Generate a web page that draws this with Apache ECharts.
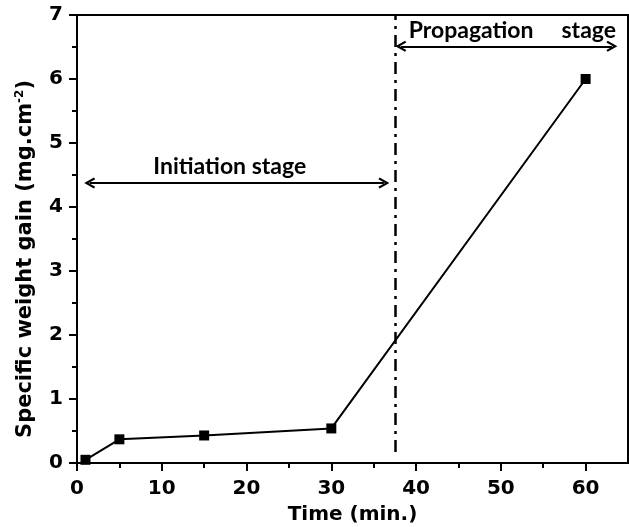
<!DOCTYPE html>
<html><head><meta charset="utf-8">
<script src="https://cdn.jsdelivr.net/npm/echarts@6/dist/echarts.min.js"></script>
<style>html,body{margin:0;padding:0;background:#fff}#c{width:629px;height:527px}</style>
</head><body><div id="c"></div>
<script>
var timeMin = [1, 5, 15, 30, 60];
var weightGain = [0.05, 0.37, 0.43, 0.54, 6.0];
var xMajorTicks = [0, 10, 20, 30, 40, 50, 60];
var xMinorTicks = [5, 15, 25, 35, 45, 55];
var stageBoundary = 37.5;
var initiationArrow = {x: [1.5, 36.2], y: 4.375, text: 'Initiation stage'};
var propagationArrow = {x: [38.2, 63.1], y: 6.51, text: 'Propagation     stage'};

var chev = 'path://M5,0 L10,8.5 L8.4,9.6 L5,3.8 L1.6,9.6 L0,8.5 Z';
var annoFont = {color: '#000', fontFamily: 'Lato', fontWeight: 'bold', fontSize: 23};
var tickFont = {color: '#000', fontFamily: 'DejaVu Sans', fontWeight: 'bold', fontSize: 20};

var chart = echarts.init(document.getElementById('c'), null, {renderer: 'canvas'});
chart.setOption({
  animation: false,
  backgroundColor: '#fff',
  grid: {left: 77, right: 1, top: 15, bottom: 64, outerBoundsMode: 'none', containLabel: false,
         show: true, borderColor: '#000', borderWidth: 2, backgroundColor: 'transparent'},
  xAxis: [{
    type: 'value', min: 0, max: 65, interval: 10,
    name: 'Time (min.)', nameLocation: 'middle', nameGap: 42,
    nameTextStyle: {color: '#000', fontFamily: 'DejaVu Sans', fontWeight: 'bold', fontSize: 20},
    axisLine: {show: true, lineStyle: {color: '#000', width: 2}},
    axisTick: {show: true, length: 8, lineStyle: {color: '#000', width: 2}, customValues: xMajorTicks},
    axisLabel: Object.assign({margin: 16, customValues: xMajorTicks}, tickFont),
    splitLine: {show: false}
  }, {
    type: 'value', min: 0, max: 65, position: 'bottom',
    axisLine: {show: false},
    axisTick: {show: true, length: 5, lineStyle: {color: '#000', width: 2}, customValues: xMinorTicks},
    axisLabel: {show: false},
    splitLine: {show: false}
  }],
  yAxis: {
    type: 'value', min: 0, max: 7, interval: 1,
    name: '{a|Specific weight gain (mg.cm}{s|-2}{a|)}', nameLocation: 'middle', nameGap: 40,
    nameTextStyle: {padding: [0, 40, 0, 0], rich: {
      a: {color: '#000', fontFamily: 'DejaVu Sans', fontWeight: 'bold', fontSize: 21},
      s: {color: '#000', fontFamily: 'DejaVu Sans', fontWeight: 'bold', fontSize: 12, padding: [0, 0, 11, 0]}
    }},
    axisLine: {show: true, lineStyle: {color: '#000', width: 2}},
    axisTick: {show: true, length: 8, lineStyle: {color: '#000', width: 2}},
    minorTick: {show: true, splitNumber: 2, length: 5, lineStyle: {color: '#000', width: 2}},
    axisLabel: Object.assign({margin: 14}, tickFont),
    splitLine: {show: false}
  },
  series: [{
    type: 'line',
    data: timeMin.map(function (t, i) { return [t, weightGain[i]]; }),
    symbol: 'rect', symbolSize: 10,
    itemStyle: {color: '#000'},
    lineStyle: {color: '#000', width: 2},
    markLine: {
      silent: true,
      animation: false,
      data: [
        [{coord: [stageBoundary, 0.17], symbol: 'none', lineStyle: {type: [12, 6, 3, 6], width: 2.5, color: '#000'}, label: {show: false}},
         {coord: [stageBoundary, 7], symbol: 'none'}],
        [{coord: [initiationArrow.x[0], initiationArrow.y], symbol: chev, symbolSize: [11, 11],
          lineStyle: {type: 'solid', width: 2.2, color: '#000'},
          label: Object.assign({show: true, position: 'middle', distance: 5, padding: [0, 14, 0, 0], formatter: initiationArrow.text}, annoFont)},
         {coord: [initiationArrow.x[1], initiationArrow.y], symbol: chev, symbolSize: [11, 11]}],
        [{coord: [propagationArrow.x[0], propagationArrow.y], symbol: chev, symbolSize: [11, 11],
          lineStyle: {type: 'solid', width: 2.2, color: '#000'},
          label: Object.assign({show: true, position: 'middle', distance: 4, padding: [0, 0, 0, 12], formatter: propagationArrow.text}, annoFont)},
         {coord: [propagationArrow.x[1], propagationArrow.y], symbol: chev, symbolSize: [11, 11]}]
      ]
    }
  }]
});
</script></body></html>
